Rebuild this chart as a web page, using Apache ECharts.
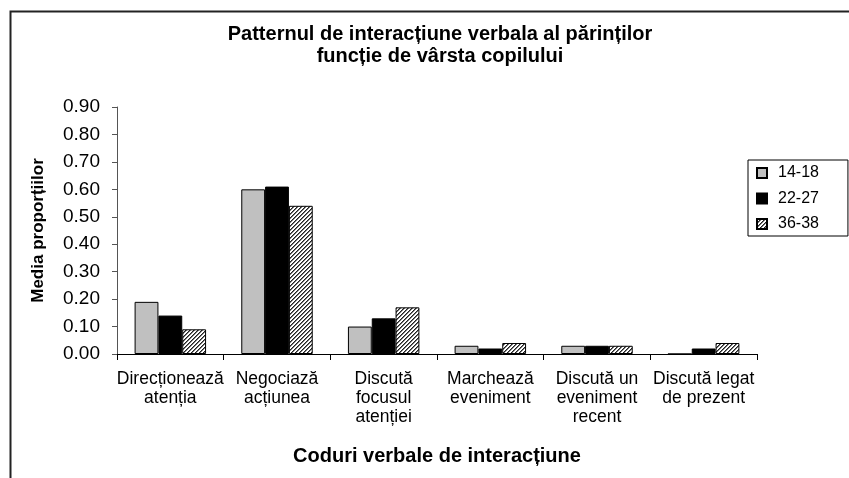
<!DOCTYPE html>
<html>
<head>
<meta charset="utf-8">
<script src="https://cdn.jsdelivr.net/npm/echarts@6/dist/echarts.min.js"></script>
<style>html,body{margin:0;padding:0;background:#fff}#c{width:849px;height:478px}</style>
</head>
<body>
<div id="c"></div>
<script>
const categories = ['Direcționează\natenția', 'Negociază\nacțiunea', 'Discută\nfocusul\natenției', 'Marchează\neveniment', 'Discută un\neveniment\nrecent', 'Discută legat\nde prezent'];
const seriesNames = ['14-18', '22-27', '36-38'];
const values1418 = [0.19, 0.60, 0.10, 0.03, 0.03, 0.00];
const values2227 = [0.14, 0.61, 0.13, 0.02, 0.03, 0.02];
const values3638 = [0.09, 0.54, 0.17, 0.04, 0.03, 0.04];
const yTicks = [0, 0.9, 0.1];

function hatch() {
  const c = document.createElement('canvas');
  c.width = 4; c.height = 4;
  const g = c.getContext('2d');
  g.fillStyle = '#ffffff'; g.fillRect(0, 0, 4, 4);
  g.fillStyle = '#222222';
  for (let i = 0; i < 4; i++) { g.fillRect(i, 3 - i, 1, 1); }
  g.fillStyle = '#777777';
  for (let i = 0; i < 4; i++) { g.fillRect((i + 1) % 4, 3 - i, 1, 1); }
  return c;
}

const chart = echarts.init(document.getElementById('c'), null, {renderer: 'canvas'});
const font = 'Liberation Sans, Arial, sans-serif';
const colors = ['#c0c0c0', '#000000', {image: hatch(), repeat: 'repeat'}];
const data = [values1418, values2227, values3638];

chart.setOption({
  animation: false,
  textStyle: {fontFamily: font},
  title: {
    text: 'Patternul de interacțiune verbala al părinților\nfuncție de vârsta copilului',
    left: 435, top: 18, textAlign: 'center',
    textStyle: {fontSize: 20, fontWeight: 'bold', color: '#000', lineHeight: 22, fontFamily: font}
  },
  graphic: [{
    type: 'rect', left: 8, top: 9, silent: true, z: -1,
    shape: {x: 0, y: 0, width: 900, height: 520},
    style: {fill: 'none', stroke: '#222', lineWidth: 2}
  }],
  legend: {
    orient: 'vertical', left: 748, top: 160,
    itemWidth: 10, itemHeight: 10, itemGap: 9.5,
    padding: [5, 29, 4, 8],
    borderColor: '#000', borderWidth: 1,
    textStyle: {fontSize: 16, color: '#000', fontFamily: font, padding: [0, 0, 0, 6]},
    data: seriesNames.map(n => ({name: n, icon: 'rect'}))
  },
  grid: {left: 117, right: 92, top: 107, bottom: 124},
  xAxis: {
    type: 'category', data: categories,
    name: 'Coduri verbale de interacțiune', nameLocation: 'middle', nameGap: 92,
    nameTextStyle: {fontSize: 20, fontWeight: 'bold', color: '#000'},
    axisLine: {lineStyle: {color: '#000', width: 1}},
    axisTick: {show: true, length: 6, lineStyle: {color: '#000'}},
    axisLabel: {interval: 0, fontSize: 17.5, color: '#000', lineHeight: 19, margin: 16}
  },
  yAxis: {
    type: 'value', min: yTicks[0], max: yTicks[1], interval: yTicks[2],
    name: 'Media proporțiilor', nameLocation: 'middle', nameGap: 70,
    nameTextStyle: {fontSize: 17, fontWeight: 'bold', color: '#000'},
    axisLine: {show: true, lineStyle: {color: '#555'}},
    axisTick: {show: true, length: 5, lineStyle: {color: '#555'}},
    splitLine: {show: false},
    axisLabel: {fontSize: 19, color: '#000', margin: 17, formatter: v => v.toFixed(2)}
  },
  series: seriesNames.map((n, i) => ({
    name: n, type: 'bar', data: data[i],
    barGap: '0%', barCategoryGap: '33%',
    itemStyle: {color: colors[i], borderColor: '#000', borderWidth: 1}
  }))
});
</script>
</body>
</html>
